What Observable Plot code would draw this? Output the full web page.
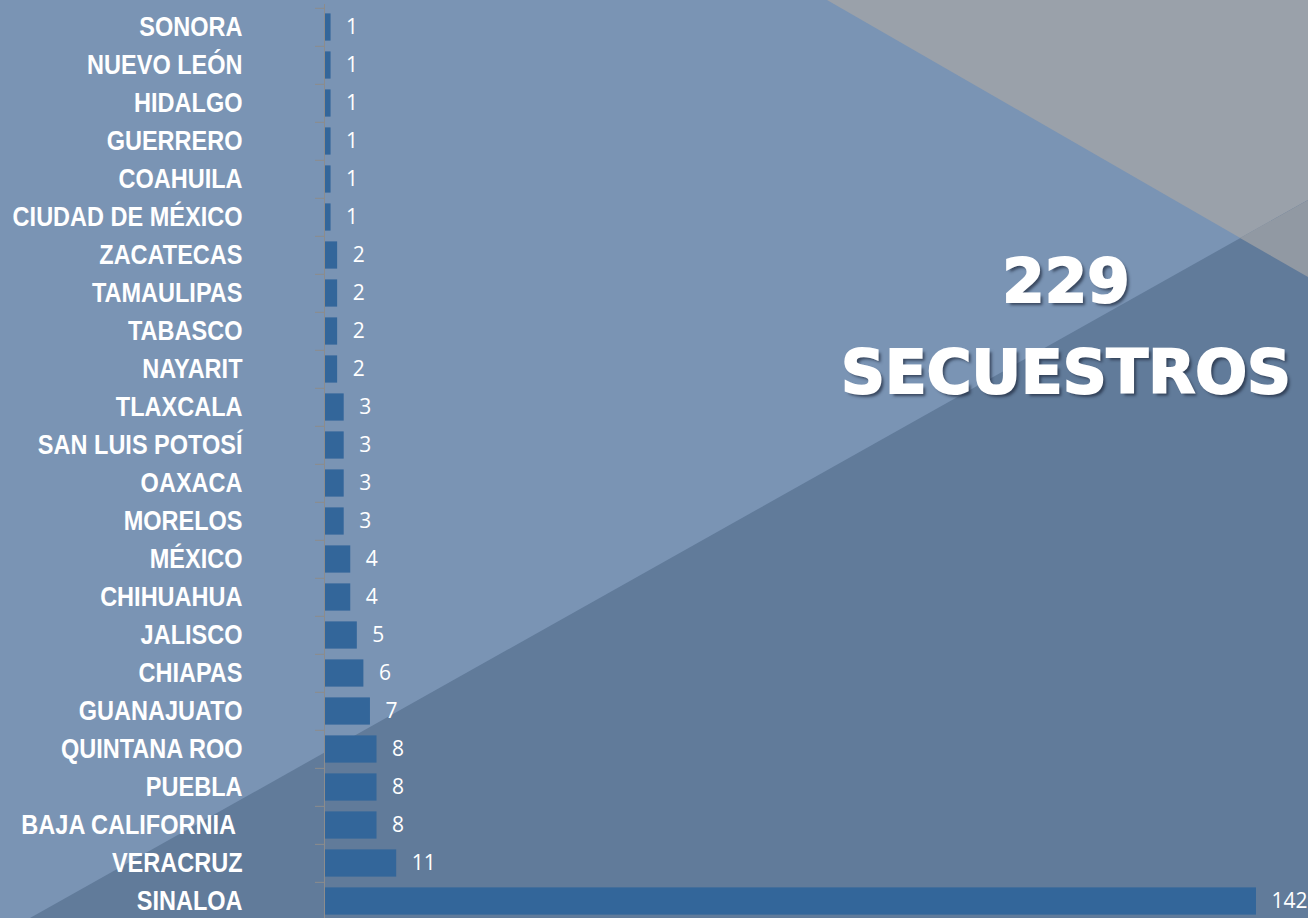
<!DOCTYPE html>
<html>
<head>
<meta charset="utf-8">
<script src="https://cdn.jsdelivr.net/npm/d3@7"></script>
<script src="https://cdn.jsdelivr.net/npm/@observablehq/plot@0.6"></script>
<style>
  html, body { margin: 0; padding: 0; }
  body { width: 1308px; height: 918px; overflow: hidden; }
  #wrap { position: relative; width: 1308px; height: 918px; background: #7a94b4; overflow: hidden; }
  .bg { position: absolute; left: 0; top: 0; width: 1308px; height: 918px; }
  #gray { background: #9aa1aa; clip-path: polygon(827px 0, 1308px 0, 1308px 277px); }
  #dark { background: #617b9a; clip-path: polygon(30px 918px, 1308px 200px, 1308px 918px); }
  #over { background: #9199a3; clip-path: polygon(1240px 238px, 1308px 200px, 1308px 277px); }
  #chart { position: absolute; left: 0; top: 0; }
  #big { position: absolute; left: 766px; top: 235px; width: 600px; text-align: center;
         font-family: "DejaVu Sans", sans-serif; font-weight: bold; font-size: 61px;
         line-height: 91px; color: #ffffff; -webkit-text-stroke: 2px #ffffff;
         text-shadow: 3px 3px 3px rgba(30,40,60,0.7); }
</style>
</head>
<body>
<div id="wrap">
  <div class="bg" id="gray"></div>
  <div class="bg" id="dark"></div>
  <div class="bg" id="over"></div>
  <div id="chart"></div>
  <div id="big">229<br>SECUESTROS</div>
</div>
<script>
const estados = [
  "SONORA", "NUEVO LEÓN", "HIDALGO", "GUERRERO", "COAHUILA", "CIUDAD DE MÉXICO",
  "ZACATECAS", "TAMAULIPAS", "TABASCO", "NAYARIT", "TLAXCALA", "SAN LUIS POTOSÍ",
  "OAXACA", "MORELOS", "MÉXICO", "CHIHUAHUA", "JALISCO", "CHIAPAS",
  "GUANAJUATO", "QUINTANA ROO", "PUEBLA", "BAJA CALIFORNIA\u00a0", "VERACRUZ", "SINALOA"
];
const valores = [1, 1, 1, 1, 1, 1, 2, 2, 2, 2, 3, 3, 3, 3, 4, 4, 5, 6, 7, 8, 8, 8, 11, 142];

const data = estados.map((estado, i) => ({estado, valor: valores[i]}));

const W = 1308, H = 918, MT = 4, MB = -5;
const step = (H - MT - MB) / estados.length;

const chart = Plot.plot({
  width: W,
  height: H,
  marginLeft: 324,
  marginRight: 52,
  marginTop: MT,
  marginBottom: MB,
  style: {background: "transparent", overflow: "visible"},
  x: {domain: [0, 142], axis: null},
  y: {domain: estados, padding: 0, axis: null, label: null},
  marks: [
    Plot.barX(data, {x: "valor", y: "estado", fill: "#33669a", insetTop: 5.4, insetBottom: 5.4}),
    Plot.ruleX([0], {stroke: "#8c8c8c", strokeWidth: 1}),
    Plot.axisY({tickSize: 9, tickFormat: () => "", label: null, dy: -step / 2, stroke: "#8c8c8c"}),
    Plot.axisY({tickSize: 0, tickPadding: 82, label: null, fontSize: 28, fontWeight: "bold",
      fontFamily: "'Liberation Sans', Arial, sans-serif", fill: "white"}),
    Plot.text(data, {x: "valor", y: "estado", text: d => String(d.valor), textAnchor: "start",
      dx: 15, fill: "white", fontSize: 21, fontFamily: "'Open Sans', sans-serif"})
  ]
});
// Narrow the category labels horizontally (condensed look)
d3.select(chart).selectAll('g[aria-label="y-axis tick label"] text').each(function() {
  const t = this.getAttribute("transform") || "";
  this.setAttribute("transform", t + " scale(0.84,1)");
});
document.getElementById("chart").appendChild(chart);
</script>
</body>
</html>
